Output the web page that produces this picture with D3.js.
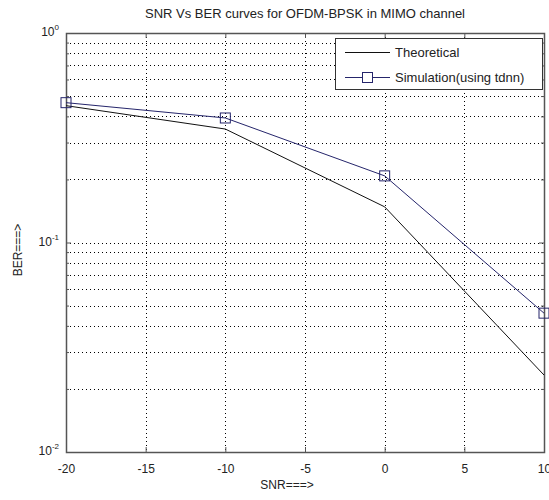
<!DOCTYPE html>
<html>
<head>
<meta charset="utf-8">
<script src="https://cdn.jsdelivr.net/npm/d3@7"></script>
<style>
  body { margin: 0; background: #fff; }
  svg { display: block; font-family: "Liberation Sans", Arial, sans-serif; }
</style>
</head>
<body>
<svg width="549" height="500"></svg>
<script>
document.addEventListener('DOMContentLoaded', function () {
  "use strict";

  var snr = [-20, -10, 0, 10];
  var berTheory = [0.45, 0.348, 0.148, 0.0233];
  var berSim = [0.465, 0.393, 0.208, 0.046];
  var xTicks = [-20, -15, -10, -5, 0, 5, 10];
  var yDecades = [-2, -1, 0];
  var seriesNames = ["Theoretical", "Simulation(using tdnn)"];

  var svg = d3.select("svg");
  var left = 66, right = 544, top = 33, bottom = 452;

  var x = d3.scaleLinear().domain([-20, 10]).range([left, right]);
  var y = d3.scaleLog().domain([0.01, 1]).range([bottom, top]);

  // minor log ticks 2..9 in each decade
  var minor = [];
  [0.01, 0.1].forEach(function (d) {
    for (var k = 2; k <= 9; k++) minor.push(d * k);
  });

  var grid = svg.append("g")
    .attr("stroke", "#000")
    .attr("stroke-width", 1)
    .attr("stroke-dasharray", "1,3");

  grid.selectAll("line.gx")
    .data(xTicks.slice(1, -1))
    .enter().append("line")
      .attr("x1", function (d) { return Math.round(x(d)) + 0.5; })
      .attr("x2", function (d) { return Math.round(x(d)) + 0.5; })
      .attr("y1", top).attr("y2", bottom);

  grid.selectAll("line.gy")
    .data(minor.concat([0.1]))
    .enter().append("line")
      .attr("x1", left).attr("x2", right)
      .attr("y1", function (d) { return Math.round(y(d)) + 0.5; })
      .attr("y2", function (d) { return Math.round(y(d)) + 0.5; });

  // axes box
  var axisColor = "#555";
  svg.append("rect")
    .attr("x", left + 0.5).attr("y", top + 0.5)
    .attr("width", right - left).attr("height", bottom - top)
    .attr("fill", "none").attr("stroke", axisColor).attr("stroke-width", 1.5);

  // bottom axis with inward ticks
  var xAxis = svg.append("g")
    .attr("transform", "translate(0," + bottom + ")")
    .call(d3.axisBottom(x).tickValues(xTicks).tickSize(-5).tickPadding(10)
      .tickFormat(function (d) { return String(d); }));
  xAxis.select(".domain").remove();
  xAxis.selectAll(".tick line").attr("stroke", axisColor);
  xAxis.selectAll("text").attr("font-size", 12).attr("fill", "#222")
    .attr("dy", "0.9em");

  var xTop = svg.append("g")
    .attr("transform", "translate(0," + top + ")")
    .call(d3.axisTop(x).tickValues(xTicks).tickSize(-5).tickFormat(""));
  xTop.select(".domain").remove();
  xTop.selectAll(".tick line").attr("stroke", axisColor);

  var yTickVals = yDecades.map(function (e) { return Math.pow(10, e); });
  [[d3.axisLeft, left], [d3.axisRight, right]].forEach(function (a) {
    var g = svg.append("g")
      .attr("transform", "translate(" + a[1] + ",0)")
      .call(a[0](y).tickValues(yTickVals).tickSize(-5).tickFormat(""));
    g.select(".domain").remove();
    g.selectAll(".tick line").attr("stroke", axisColor);
    var gm = svg.append("g")
      .attr("transform", "translate(" + a[1] + ",0)")
      .call(a[0](y).tickValues(minor).tickSize(-3).tickFormat(""));
    gm.select(".domain").remove();
    gm.selectAll(".tick line").attr("stroke", axisColor);
  });

  // y tick labels 10^e
  var yl = svg.append("g").attr("fill", "#222");
  yDecades.forEach(function (e) {
    var t = yl.append("text")
      .attr("x", left - 7)
      .attr("y", y(Math.pow(10, e)) + 3)
      .attr("text-anchor", "end")
      .attr("font-size", 12);
    t.append("tspan").text("10");
    t.append("tspan").attr("font-size", 8).attr("dy", -6).text(e);
  });

  // lines
  var line = d3.line()
    .x(function (d) { return x(d[0]); })
    .y(function (d) { return y(d[1]); });

  var theoPts = snr.map(function (s, i) { return [s, berTheory[i]]; });
  var simPts = snr.map(function (s, i) { return [s, berSim[i]]; });
  var simColor = "#25256b";

  svg.append("path").datum(theoPts).attr("d", line)
    .attr("fill", "none").attr("stroke", "#111").attr("stroke-width", 1);
  svg.append("path").datum(simPts).attr("d", line)
    .attr("fill", "none").attr("stroke", simColor).attr("stroke-width", 1);
  svg.selectAll("rect.mk")
    .data(simPts)
    .enter().append("rect")
      .attr("x", function (d) { return x(d[0]) - 5; })
      .attr("y", function (d) { return y(d[1]) - 5; })
      .attr("width", 10).attr("height", 10)
      .attr("fill", "none").attr("stroke", simColor).attr("stroke-width", 1);

  // legend
  var lg = svg.append("g");
  lg.append("rect")
    .attr("x", 335.5).attr("y", 38.5).attr("width", 207).attr("height", 51)
    .attr("fill", "#fff").attr("stroke", "#333").attr("stroke-width", 1);
  lg.append("line").attr("x1", 345).attr("x2", 390).attr("y1", 52.5).attr("y2", 52.5)
    .attr("stroke", "#111");
  lg.append("line").attr("x1", 345).attr("x2", 390).attr("y1", 77.5).attr("y2", 77.5)
    .attr("stroke", simColor);
  lg.append("rect").attr("x", 362.5).attr("y", 72.5).attr("width", 10).attr("height", 10)
    .attr("fill", "#fff").attr("stroke", simColor);
  lg.selectAll("text")
    .data(seriesNames)
    .enter().append("text")
      .attr("x", 395)
      .attr("y", function (d, i) { return 57 + i * 25; })
      .attr("font-size", 13)
      .attr("fill", "#222")
      .text(function (d) { return d; });

  // titles
  svg.append("text")
    .attr("x", (left + right) / 2).attr("y", 18)
    .attr("text-anchor", "middle").attr("font-size", 13).attr("fill", "#222")
    .text("SNR Vs BER curves for OFDM-BPSK in MIMO channel");
  svg.append("text")
    .attr("x", (left + right) / 2 - 18).attr("y", 489)
    .attr("text-anchor", "middle").attr("font-size", 12).attr("fill", "#222")
    .text("SNR===>");
  svg.append("text")
    .attr("transform", "translate(22,250) rotate(-90)")
    .attr("text-anchor", "middle").attr("font-size", 12).attr("fill", "#222")
    .text("BER===>");
}, false);
</script>
</body>
</html>
